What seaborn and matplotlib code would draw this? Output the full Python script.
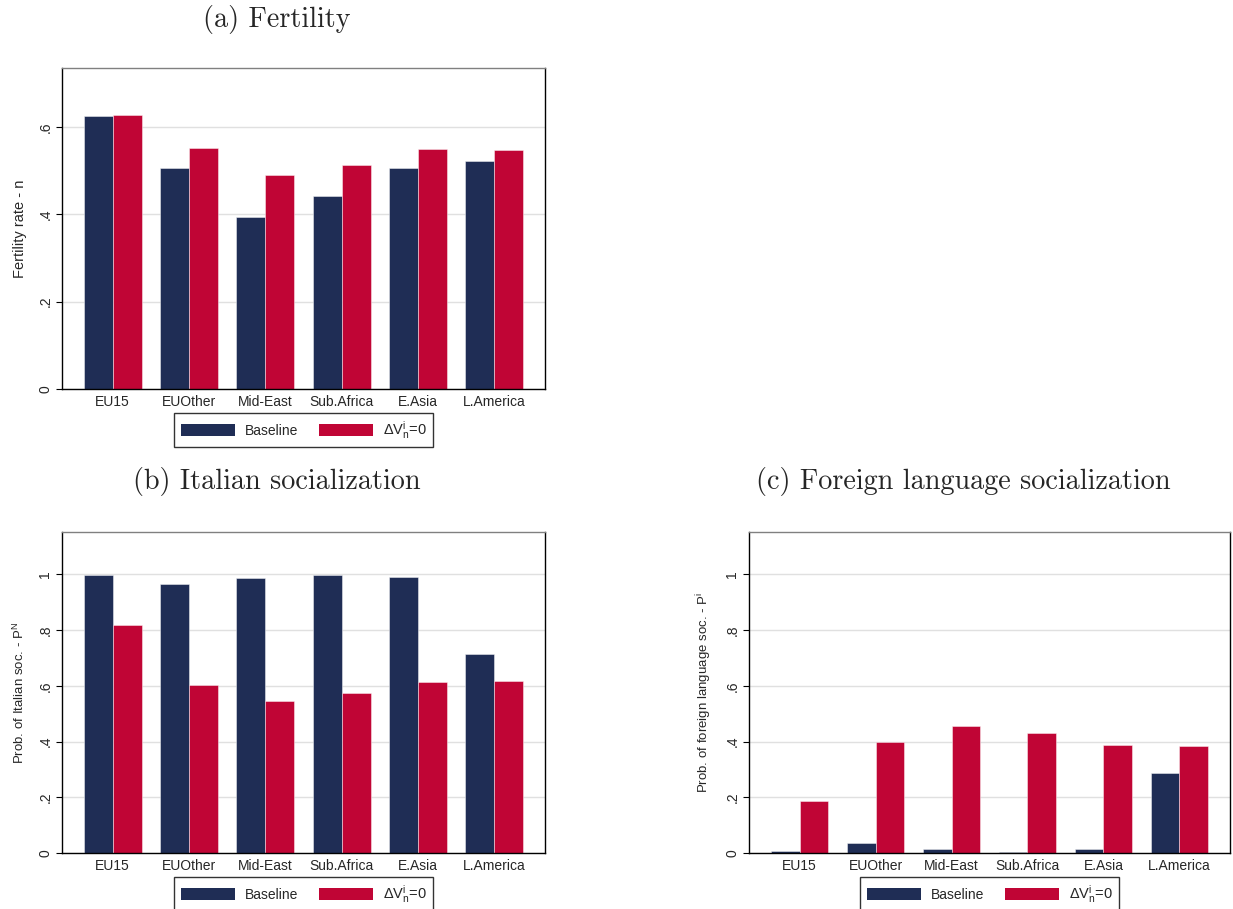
import matplotlib
matplotlib.use("Agg")
import matplotlib.pyplot as plt
import seaborn as sns
import pandas as pd

regions = ["EU15", "EUOther", "Mid-East", "Sub.Africa", "E.Asia", "L.America"]
scenarios = ["Baseline", r"ΔV$_\mathrm{n}^\mathrm{i}$=0"]

fert_base = [0.625, 0.505, 0.394, 0.442, 0.507, 0.522]
fert_cf = [0.628, 0.551, 0.489, 0.513, 0.549, 0.548]

ital_base = [0.998, 0.966, 0.987, 0.997, 0.990, 0.714]
ital_cf = [0.818, 0.603, 0.545, 0.574, 0.614, 0.617]

forl_base = [0.006, 0.036, 0.015, 0.005, 0.013, 0.287]
forl_cf = [0.185, 0.398, 0.456, 0.430, 0.387, 0.385]

titles = ["(a) Fertility", "(b) Italian socialization", "(c) Foreign language socialization"]
ylabels = ["Fertility rate - n", r"Prob. of Italian soc. - P$^\mathrm{N}$",
           r"Prob. of foreign language soc. - P$^\mathrm{i}$"]
fert_ticks = [0, 0.2, 0.4, 0.6]
fert_ticklabels = ["0", ".2", ".4", ".6"]
prob_ticks = [0, 0.2, 0.4, 0.6, 0.8, 1.0]
prob_ticklabels = ["0", ".2", ".4", ".6", ".8", "1"]

NAVY = "#1f2d55"
RED = "#c00535"

sns.set_theme(style="white")
plt.rcParams["font.family"] = ["Liberation Sans", "DejaVu Sans"]
plt.rcParams["mathtext.fontset"] = "custom"
plt.rcParams["mathtext.rm"] = "Liberation Sans"
plt.rcParams["mathtext.it"] = "Liberation Sans:italic"

fig = plt.figure(figsize=(12.33, 9.09), dpi=100)

W, H = 1233, 909
def ax_rect(x0, y0, x1, y1):
    return [x0 / W, 1 - y1 / H, (x1 - x0) / W, (y1 - y0) / H]

axes = [
    fig.add_axes(ax_rect(62, 68, 545, 389)),
    fig.add_axes(ax_rect(62, 532, 545, 853)),
    fig.add_axes(ax_rect(749, 532, 1230, 853)),
]

panels = [
    (fert_base, fert_cf, 0.735, fert_ticks, fert_ticklabels),
    (ital_base, ital_cf, 1.152, prob_ticks, prob_ticklabels),
    (forl_base, forl_cf, 1.152, prob_ticks, prob_ticklabels),
]
ylabel_sizes = [10.5, 9.5, 9.5]

for i, (ax, (b, c, ymax, ticks, tlabels)) in enumerate(zip(axes, panels)):
    df = pd.DataFrame({
        "region": regions * 2,
        "value": list(b) + list(c),
        "scenario": [scenarios[0]] * len(regions) + [scenarios[1]] * len(regions),
    })
    sns.barplot(data=df, x="region", y="value", hue="scenario",
                palette=[NAVY, RED], width=0.76, gap=0, ax=ax,
                edgecolor=(1, 1, 1, 0.45), linewidth=0.7, saturation=1)
    ax.set_xlim(-0.665, 5.665)
    ax.set_ylim(0, ymax)
    ax.set_yticks(ticks)
    ax.set_yticklabels(tlabels, rotation=90, va="center", fontsize=10)
    ax.tick_params(axis="y", length=4, width=0.8, color="black", left=True, pad=3)
    ax.tick_params(axis="x", length=0, labelsize=10, pad=4)
    ax.set_xlabel("")
    ax.set_ylabel(ylabels[i], fontsize=ylabel_sizes[i], labelpad=8)
    ax.yaxis.grid(True, color="#e0e0e0", linewidth=1)
    ax.set_axisbelow(True)
    for s in ["left", "bottom", "right"]:
        ax.spines[s].set_color("black")
        ax.spines[s].set_linewidth(1.0)
    ax.spines["top"].set_color("#808080")
    ax.spines["top"].set_linewidth(1.0)

    handles, labels = ax.get_legend_handles_labels()
    if ax.get_legend() is not None:
        ax.get_legend().remove()
    leg = ax.legend(handles, labels, loc="center", bbox_to_anchor=(0.5, -0.128),
                    ncol=2, frameon=True, fancybox=False, edgecolor="black",
                    fontsize=10, handlelength=3.9, handleheight=1.05,
                    handletextpad=0.7, columnspacing=1.5, borderpad=0.45,
                    borderaxespad=0)
    leg.get_frame().set_linewidth(1.0)
    leg.get_texts()[1].set_fontsize(10.5)
    for h in leg.legend_handles:
        h.set_edgecolor("none")

title_kw = dict(family="cmr10", fontsize=20.3, ha="center", va="center")
fig.text(277 / W, 1 - 19 / H, titles[0], **title_kw)
fig.text(277 / W, 1 - 481 / H, titles[1], **title_kw)
fig.text(963 / W, 1 - 481 / H, titles[2], **title_kw)

fig.savefig("out.png", dpi=100, facecolor="white")
